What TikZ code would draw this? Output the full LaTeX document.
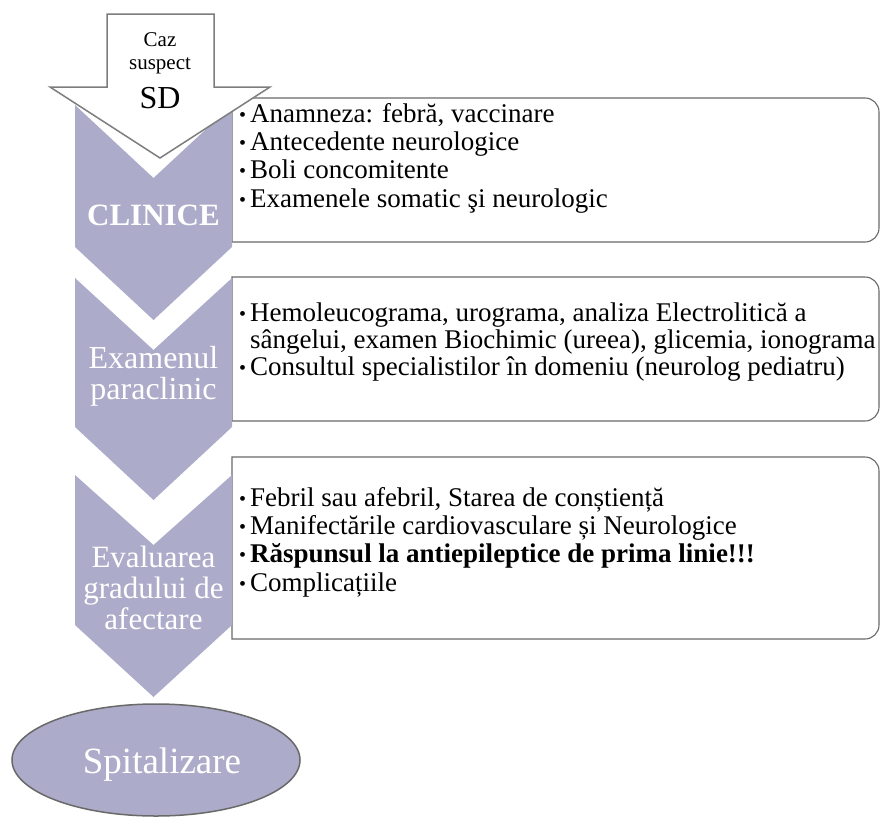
\documentclass[tikz,border=0pt]{standalone}
\usepackage{fontspec}
\setmainfont{Liberation Serif}
\usetikzlibrary{shapes.geometric}
\definecolor{chev}{RGB}{172,172,202}
\definecolor{edge}{RGB}{105,105,105}
\definecolor{arrowedge}{RGB}{125,125,125}
\newcommand{\bul}{\makebox[11pt][l]{\raisebox{1pt}{\fontsize{20}{20}\selectfont •}}}
\newcommand{\smalltxt}{\fontsize{21}{26}\selectfont}
\newcommand{\bigtxt}{\fontsize{32}{32}\selectfont}
\begin{document}
\begin{tikzpicture}[x=1pt,y=-1pt,
  chevron/.style={fill=chev,draw=none},
  infobox/.style={draw=edge,line width=1.1pt,fill=white},
  boxtext/.style={anchor=west,inner sep=0pt,font=\fontsize{27}{28.4}\selectfont},
  chevlabel/.style={text=white,align=center,inner sep=0pt},
  startarrow/.style={fill=white,draw=arrowedge,line width=1.5pt,line join=miter},
]
\useasboundingbox (0,0) rectangle (881,817);

% information boxes
\draw[infobox] (232,98) [rounded corners=14pt] -- (879,98) -- (879,242) [sharp corners] -- (232,242) -- cycle;
\draw[infobox] (232,277) [rounded corners=14pt] -- (879,277) -- (879,421) [sharp corners] -- (232,421) -- cycle;
\draw[infobox] (232,457) [rounded corners=14pt] -- (879,457) -- (879,639) [sharp corners] -- (232,639) -- cycle;

% chevrons
\fill[chevron] (75,105) -- (153.5,178) -- (232,105) -- (232,247) -- (153.5,320) -- (75,247) -- cycle;
\fill[chevron] (75,278) -- (153.5,350) -- (232,278) -- (232,427) -- (153.5,500) -- (75,427) -- cycle;
\fill[chevron] (75,475) -- (153.5,545) -- (232,475) -- (232,625) -- (153.5,697) -- (75,625) -- cycle;

% start arrow
\draw[startarrow] (107,14) -- (214,14) -- (214,87) -- (270,87) -- (160,158) -- (50,87) -- (107,87) -- cycle;
\node[inner sep=0pt,font=\smalltxt] (caz) at (160,40) {Caz};
\node[inner sep=0pt,font=\smalltxt] (susp) at (160,66) {suspect};
\node[inner sep=0pt,font=\bigtxt] (sd) at (160,98) {SD};

% chevron labels
\node[chevlabel,font=\fontsize{31}{31}\selectfont\bfseries] (lab1) at (153.5,215) {CLINICE};
\node[chevlabel,font=\fontsize{32}{31}\selectfont] (lab2) at (153.5,376) {Examenul\\paraclinic};
\node[chevlabel,font=\fontsize{31}{31}\selectfont] (lab3) at (153.5,588) {Evaluarea\\gradului de\\afectare};

% box texts
\node[boxtext] (txt1) at (239,159) {\begin{tabular}{@{}l@{}l@{}}
\bul & Anamneza: febră, vaccinare\\
\bul & Antecedente neurologice\\
\bul & Boli concomitente\\
\bul & Examenele somatic şi neurologic
\end{tabular}};
\node[boxtext,font=\fontsize{27}{26.5}\selectfont] (txt2) at (239,343) {\begin{tabular}{@{}l@{}l@{}}
\bul & Hemoleucograma, urograma, analiza Electrolitică a\\
 & sângelui, examen Biochimic (ureea), glicemia, ionograma\\
\bul & Consultul specialistilor în domeniu (neurolog pediatru)
\end{tabular}};
\node[boxtext] (txt3) at (239,543) {\begin{tabular}{@{}l@{}l@{}}
\bul & Febril sau afebril, Starea de conștiență\\
\bul & Manifectările cardiovasculare și Neurologice\\
\bul & \textbf{Răspunsul la antiepileptice de prima linie!!!}\\
\bul & Complicațiile
\end{tabular}};

% final step
\node[ellipse,fill=chev,draw=edge,line width=1.5pt,minimum width=288pt,minimum height=112pt,
      inner sep=0pt] (hosp) at (156,760) {};
\node[text=white,font=\fontsize{37}{37}\selectfont,inner sep=0pt] (hosptxt) at (162,765) {Spitalizare};
\end{tikzpicture}
\end{document}
